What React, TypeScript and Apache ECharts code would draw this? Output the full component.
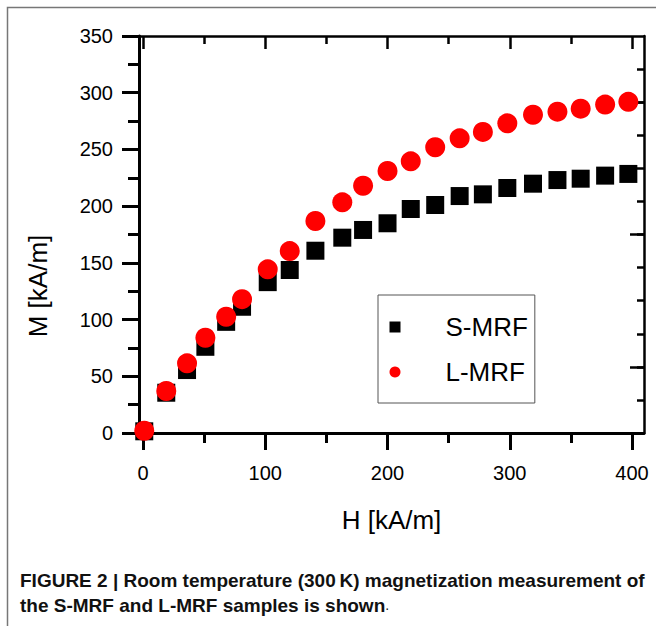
import React, { useEffect, useRef } from "react";
import * as echarts from "echarts";

// H [kA/m]
const hValues = [1, 19, 36, 51, 68, 81, 102, 120, 141, 163, 180, 200, 219, 239, 259, 278, 298, 319, 339, 358, 378, 397];
// M [kA/m] S-MRF
const sMrf = [1.5, 35.5, 55.5, 76, 98, 111.3, 133, 143.7, 160.7, 172.2, 179, 184.9, 197.5, 201, 208.9, 210.4, 216, 219.8, 223, 224.2, 226.9, 228.4];
// M [kA/m] L-MRF
const lMrf = [2, 37, 61.4, 84, 102.5, 118, 144.3, 160.4, 186.9, 203.4, 218, 231, 239.5, 251.9, 259.8, 265.4, 273, 280.6, 283.3, 285.9, 289.5, 292];

const xMajor = [0, 100, 200, 300, 400];
const xMinor = [50, 150, 250, 350];
const rightShort = [1, 2, 3, 4, 5, 6, 7, 8, 9, 10, 11].map((k) => (k * 350) / 12);
const rightLong = [2, 6, 10].map((k) => (k * 350) / 12);

const FONT = '"Liberation Sans", Arial, sans-serif';

export default function App() {
  const ref = useRef<HTMLDivElement>(null);
  useEffect(() => {
    if (!ref.current) return;
    const chart = echarts.init(ref.current, null, { renderer: "svg" });
    const xMin = -3.3;
    const xMax = 409.8;
    const line = (w: number) => ({ show: true, onZero: false, lineStyle: { color: "#000", width: w } });
    const noLine = { show: false, onZero: false };
    chart.setOption({
      animation: false,
      backgroundColor: "#fff",
      grid: { left: 139, right: 12, top: 36, bottom: 193, containLabel: false },
      legend: {
        orient: "vertical",
        left: 378,
        top: 295,
        padding: [19, 7, 18, 11.5],
        itemGap: 19,
        itemWidth: 11,
        itemHeight: 11,
        borderColor: "#555",
        borderWidth: 1,
        data: ["S-MRF", "L-MRF"],
        textStyle: { fontSize: 26, lineHeight: 26, color: "#000", fontFamily: FONT, padding: [0, 0, 0, 40] },
      },
      xAxis: [
        {
          type: "value", position: "bottom", min: xMin, max: xMax,
          axisLine: line(3),
          axisTick: { show: true, inside: false, length: 17, lineStyle: { color: "#000", width: 3 }, customValues: xMajor },
          axisLabel: { show: true, customValues: xMajor, margin: 30, fontSize: 20, color: "#000", fontFamily: FONT },
          splitLine: { show: false },
          name: "H [kA/m]", nameLocation: "middle", nameGap: 74,
          nameTextStyle: { fontSize: 26, color: "#000", fontFamily: FONT },
        },
        {
          type: "value", position: "bottom", min: xMin, max: xMax,
          axisLine: noLine,
          axisTick: { show: true, inside: false, length: 10, lineStyle: { color: "#000", width: 3 }, customValues: xMinor },
          axisLabel: { show: false },
          splitLine: { show: false },
        },
        {
          type: "value", position: "top", min: xMin, max: xMax,
          axisLine: line(2.5),
          axisTick: { show: true, inside: true, length: 13, lineStyle: { color: "#000", width: 2.5 }, customValues: xMajor },
          axisLabel: { show: false },
          splitLine: { show: false },
        },
        {
          type: "value", position: "top", min: xMin, max: xMax,
          axisLine: noLine,
          axisTick: { show: true, inside: true, length: 8, lineStyle: { color: "#000", width: 2.5 }, customValues: xMinor },
          axisLabel: { show: false },
          splitLine: { show: false },
        },
      ],
      yAxis: [
        {
          type: "value", position: "left", min: 0, max: 350, interval: 50,
          axisLine: line(3),
          axisTick: { show: true, inside: false, length: 17, lineStyle: { color: "#000", width: 3 } },
          minorTick: { show: true, splitNumber: 2, length: 11, lineStyle: { color: "#000", width: 3 } },
          axisLabel: { show: true, margin: 26, fontSize: 20, color: "#000", fontFamily: FONT },
          splitLine: { show: false },
        },
        {
          type: "value", position: "right", min: 0, max: 350,
          axisLine: line(2.5),
          axisTick: { show: true, inside: true, length: 7, lineStyle: { color: "#000", width: 2.5 }, customValues: rightShort },
          axisLabel: { show: false },
          splitLine: { show: false },
        },
        {
          type: "value", position: "right", min: 0, max: 350,
          axisLine: noLine,
          axisTick: { show: true, inside: true, length: 14, lineStyle: { color: "#000", width: 2.5 }, customValues: rightLong },
          axisLabel: { show: false },
          splitLine: { show: false },
        },
      ],
      series: [
        {
          name: "S-MRF", type: "scatter", symbol: "rect", symbolSize: 18,
          itemStyle: { color: "#000", opacity: 1 },
          data: hValues.map((h, i) => [h, sMrf[i]]),
          z: 2,
        },
        {
          name: "L-MRF", type: "scatter", symbol: "circle", symbolSize: 20,
          itemStyle: { color: "#ff0000", opacity: 1 },
          data: hValues.map((h, i) => [h, lMrf[i]]),
          z: 3,
        },
      ],
      graphic: [
        {
          type: "rect", silent: true,
          shape: { x: 7.5, y: 7.5, width: 800, height: 800 },
          style: { fill: "none", stroke: "#777", lineWidth: 1.5 },
        },
        {
          type: "text", x: 38, y: 286, rotation: Math.PI / 2,
          style: { text: "M [kA/m]", fontSize: 26, fontFamily: FONT, fill: "#000", align: "center", verticalAlign: "middle" },
        },
        {
          type: "text", x: 20, y: 580,
          style: {
            text: "FIGURE 2 | Room temperature (300\u2009K) magnetization measurement of",
            fontSize: 19, fontWeight: "bold", fontFamily: FONT, fill: "#111", align: "left", verticalAlign: "middle",
          },
        },
        {
          type: "text", x: 20, y: 605,
          style: {
            text: "the S-MRF and L-MRF samples is shown{n|.}",
            fontSize: 19, fontWeight: "bold", fontFamily: FONT, fill: "#111", align: "left", verticalAlign: "middle",
            rich: { n: { fontSize: 14, fontWeight: "normal", fontFamily: FONT, fill: "#111" } },
          },
        },
      ],
    });
    return () => chart.dispose();
  }, []);
  return <div ref={ref} style={{ position: "absolute", left: 0, top: 0, width: 656, height: 626 }} />;
}
